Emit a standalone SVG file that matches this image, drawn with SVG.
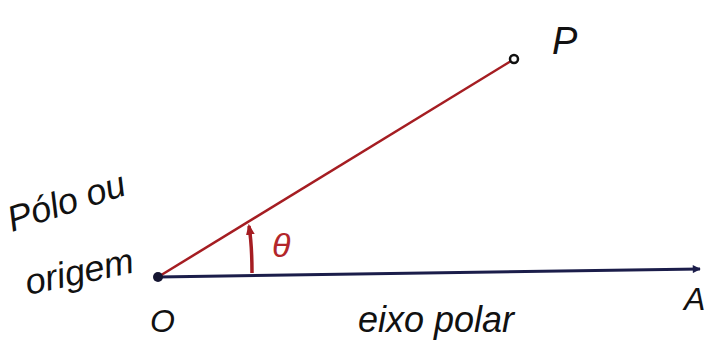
<svg xmlns="http://www.w3.org/2000/svg" width="708" height="345" viewBox="0 0 708 345">
<defs>
<style>
.hw{font-family:"Liberation Sans",Arial,sans-serif;font-style:italic;fill:#111;}
.red{stroke:#a51d22;fill:none;}
</style>
<marker id="ah" viewBox="0 0 10 10" refX="9" refY="5" markerWidth="14" markerHeight="8" orient="auto" markerUnits="userSpaceOnUse">
<path d="M0,0 L10,5 L0,10 z" fill="#1b1d4a"/>
</marker>
<marker id="ahr" viewBox="0 0 10 10" refX="8" refY="5" markerWidth="11" markerHeight="11" orient="auto" markerUnits="userSpaceOnUse">
<path d="M0,1 L10,5 L0,9 z" fill="#a51d22"/>
</marker>
</defs>
<rect width="708" height="345" fill="#ffffff"/>
<g id="connectors">
<line x1="158" y1="277" x2="700" y2="269" stroke="#1b1d4a" stroke-width="3" marker-end="url(#ah)"/>
<line class="red" x1="158" y1="277" x2="511" y2="61" stroke-width="2.5"/>
<path class="red" d="M252,273 Q252,245 249,226" stroke-width="3.5" marker-end="url(#ahr)"/>
</g>
<g id="node-O">
<circle cx="158" cy="277" r="5" fill="#151531"/>
<text class="hw" x="150" y="332" font-size="32">O</text>
</g>
<g id="node-P">
<circle cx="514" cy="59" r="4" fill="#fff" stroke="#111" stroke-width="2.5"/>
<text class="hw" x="552" y="54" font-size="38">P</text>
</g>
<g id="node-A">
<text class="hw" x="684" y="310" font-size="32">A</text>
</g>
<g id="label-theta">
<text x="272" y="257" font-family="Liberation Sans,Arial,sans-serif" font-style="italic" font-size="34" fill="#b3262a">θ</text>
</g>
<g id="label-polo">
<text class="hw" x="12" y="232" font-size="36" transform="rotate(-18 12 232)">Pólo ou</text>
<text class="hw" x="28" y="295" font-size="36" transform="rotate(-12 28 295)">origem</text>
</g>
<g id="label-eixo">
<text class="hw" x="358" y="332" font-size="36">eixo polar</text>
</g>
</svg>
